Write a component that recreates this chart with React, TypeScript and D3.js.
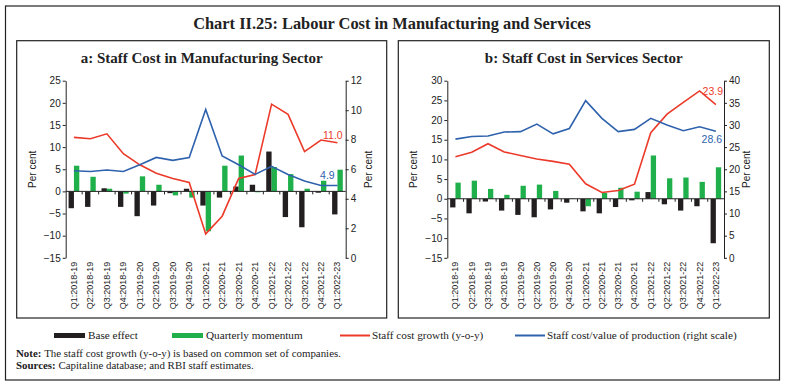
import * as d3 from "d3";
import React, { useEffect, useRef } from "react";

// categories
const quarters = [
  "Q1:2018-19", "Q2:2018-19", "Q3:2018-19", "Q4:2018-19",
  "Q1:2019-20", "Q2:2019-20", "Q3:2019-20", "Q4:2019-20",
  "Q1:2020-21", "Q2:2020-21", "Q3:2020-21", "Q4:2020-21",
  "Q1:2021-22", "Q2:2021-22", "Q3:2021-22", "Q4:2021-22",
  "Q1:2022-23",
];

// a: manufacturing
const mfgBase = [-3.8, -3.5, 0.7, -3.5, -5.6, -3.2, -0.4, 0.6, -3.2, -1.4, 1.1, 1.5, 9.0, -5.8, -8.1, -0.3, -5.2];
const mfgMomentum = [5.8, 3.3, 0.6, -0.5, 3.4, 1.5, -0.9, -1.4, -9.0, 5.8, 8.1, -0.2, 5.5, 3.9, 0.6, 2.4, 4.9];
const mfgGrowth = [12.2, 11.9, 13.0, 8.5, 6.0, 4.1, 2.9, 2.0, -9.6, -5.6, 2.9, 3.8, 19.7, 17.4, 9.0, 11.6, 11.0];
const mfgRatio = [5.9, 5.85, 5.95, 5.85, 6.3, 6.8, 6.6, 6.8, 10.05, 6.9, 6.3, 5.65, 6.2, 5.65, 5.2, 4.9, 4.9];
const mfgLeftTicks = [-15, -10, -5, 0, 5, 10, 15, 20, 25];
const mfgRightTicks = [0, 2, 4, 6, 8, 10, 12];

// b: services
const svcBase = [-2.2, -3.7, -0.7, -3.0, -4.1, -4.7, -2.7, -1.0, -3.2, -3.7, -2.1, -0.4, 1.7, -1.4, -3.0, -1.9, -11.3];
const svcMomentum = [4.1, 4.6, 2.5, 1.0, 3.3, 3.6, 2.0, 0.1, -1.9, 1.5, 2.8, 1.8, 11.0, 5.2, 5.4, 4.3, 8.0];
const svcGrowth = [10.7, 11.8, 14.0, 11.9, 11.0, 10.1, 9.5, 8.8, 3.8, 1.6, 2.1, 3.7, 16.8, 21.5, 24.5, 27.4, 23.9];
const svcRatio = [26.8, 27.4, 27.5, 28.4, 28.5, 30.2, 28.0, 29.2, 35.5, 31.5, 28.5, 29.0, 31.5, 30.0, 28.7, 29.6, 28.6];
const svcLeftTicks = [-15, -10, -5, 0, 5, 10, 15, 20, 25, 30];
const svcRightTicks = [0, 5, 10, 15, 20, 25, 30, 35, 40];

const legendItems = [
  { label: "Base effect", kind: "bar", color: "#231f20" },
  { label: "Quarterly momentum", kind: "bar", color: "#1fb04b" },
  { label: "Staff cost growth (y-o-y)", kind: "line", color: "#ec3a2a" },
  { label: "Staff cost/value of production (right scale)", kind: "line", color: "#2f62ad" },
];

const serif = "'Liberation Serif', 'Times New Roman', serif";
const sans = "'Liberation Sans', Arial, sans-serif";
const col = { base: "#231f20", mom: "#1fb04b", growth: "#ec3a2a", ratio: "#2f62ad" };

function drawPanel(svg, p) {
  const g = svg.append("g");

  // panel frame + title
  g.append("rect")
    .attr("x", p.box[0]).attr("y", p.box[1])
    .attr("width", p.box[2]).attr("height", p.box[3])
    .attr("fill", "none").attr("stroke", "#222").attr("stroke-width", 1.2);
  g.append("text")
    .attr("x", p.box[0] + p.box[2] / 2).attr("y", 63)
    .attr("text-anchor", "middle")
    .attr("font-family", serif).attr("font-weight", "bold").attr("font-size", 15)
    .attr("fill", "#222")
    .text(p.title);

  const top = 80.7, bottom = 257.8;
  const x = d3.scaleBand().domain(quarters).range([p.x0, p.x1]);
  const yL = d3.scaleLinear().domain(d3.extent(p.leftTicks)).range([bottom, top]);
  const yR = d3.scaleLinear().domain(d3.extent(p.rightTicks)).range([bottom, top]);
  const bw = x.bandwidth() * 0.325;
  const cx = (q) => x(q) + x.bandwidth() / 2;

  // bars
  const bar = (vals, color, offset) =>
    g.append("g").selectAll("rect").data(vals).join("rect")
      .attr("x", (d, i) => cx(quarters[i]) + offset)
      .attr("y", (d) => yL(Math.max(0, d)))
      .attr("width", bw)
      .attr("height", (d) => Math.abs(yL(d) - yL(0)))
      .attr("fill", color);
  bar(p.base, col.base, -bw);
  bar(p.momentum, col.mom, 0);

  // zero line with ticks at band edges
  g.append("line")
    .attr("x1", p.x0).attr("x2", p.x1)
    .attr("y1", yL(0)).attr("y2", yL(0))
    .attr("stroke", "#222").attr("stroke-width", 1);
  g.append("g").selectAll("line").data(quarters.slice(1)).join("line")
    .attr("x1", (d) => x(d)).attr("x2", (d) => x(d))
    .attr("y1", yL(0)).attr("y2", yL(0) + 3)
    .attr("stroke", "#222");

  // lines
  const line = (vals, y, color) =>
    g.append("path")
      .attr("d", d3.line().x((d, i) => cx(quarters[i])).y((d) => y(d))(vals))
      .attr("fill", "none").attr("stroke", color).attr("stroke-width", 1.6);
  line(p.growth, yL, col.growth);
  line(p.ratio, yR, col.ratio);

  // end labels
  const last = quarters.length - 1;
  g.append("text")
    .attr("x", p.x1 - p.growthLab[0]).attr("y", yL(p.growth[last]) + p.growthLab[1])
    .attr("text-anchor", "end").attr("font-family", sans).attr("font-size", 10.5)
    .attr("fill", col.growth).text(p.growth[last].toFixed(1));
  g.append("text")
    .attr("x", p.x1 - p.ratioLab[0]).attr("y", yR(p.ratio[last]) + p.ratioLab[1])
    .attr("text-anchor", "end").attr("font-family", sans).attr("font-size", 10.5)
    .attr("fill", col.ratio).text(p.ratio[last].toFixed(1));

  // axes
  const styleAxis = (ax) => {
    ax.selectAll("text").attr("font-family", sans).attr("font-size", 10).attr("fill", "#222");
    ax.selectAll("line,path").attr("stroke", "#222");
  };
  const left = g.append("g").attr("transform", `translate(${p.x0},0)`)
    .call(d3.axisLeft(yL).tickValues(p.leftTicks).tickSize(3).tickSizeOuter(0).tickPadding(2));
  styleAxis(left);
  const right = g.append("g").attr("transform", `translate(${p.x1},0)`)
    .call(d3.axisRight(yR).tickValues(p.rightTicks).tickSize(3).tickSizeOuter(0).tickPadding(2));
  styleAxis(right);

  // category labels
  g.append("g").selectAll("text").data(quarters).join("text")
    .attr("transform", (d) => `translate(${cx(d) + 3},${bottom + 4}) rotate(-90)`)
    .attr("text-anchor", "end")
    .attr("font-family", sans).attr("font-size", 9).attr("fill", "#222")
    .text((d) => d);

  // axis titles
  [p.x0 - 30, p.x1 + 26].forEach((tx) => {
    g.append("text")
      .attr("transform", `translate(${tx},${(top + bottom) / 2}) rotate(-90)`)
      .attr("text-anchor", "middle")
      .attr("font-family", sans).attr("font-size", 10).attr("fill", "#222")
      .text("Per cent");
  });
}

export default function App() {
  const svgRef = useRef(null);

  useEffect(() => {
    document.body.style.margin = "0";
    const svg = d3.select(svgRef.current);
    svg.selectAll("*").remove();

    svg.append("rect").attr("width", 786).attr("height", 386).attr("fill", "#fff");
    svg.append("rect")
      .attr("x", 5.5).attr("y", 6).attr("width", 774).attr("height", 374)
      .attr("fill", "none").attr("stroke", "#222").attr("stroke-width", 1.2);
    svg.append("text")
      .attr("x", 392).attr("y", 29).attr("text-anchor", "middle")
      .attr("font-family", serif).attr("font-weight", "bold").attr("font-size", 16.4)
      .attr("fill", "#222")
      .text("Chart II.25: Labour Cost in Manufacturing and Services");

    drawPanel(svg, {
      box: [16.7, 40.7, 370, 277.3],
      title: "a: Staff Cost in Manufacturing Sector",
      x0: 65.7, x1: 345.7,
      leftTicks: mfgLeftTicks, rightTicks: mfgRightTicks,
      base: mfgBase, momentum: mfgMomentum, growth: mfgGrowth, ratio: mfgRatio,
      growthLab: [3, -4], ratioLab: [11, -6],
    });
    drawPanel(svg, {
      box: [398.3, 40.7, 371, 277.3],
      title: "b: Staff Cost in Services Sector",
      x0: 447.3, x1: 724,
      leftTicks: svcLeftTicks, rightTicks: svcRightTicks,
      base: svcBase, momentum: svcMomentum, growth: svcGrowth, ratio: svcRatio,
      growthLab: [1, -10], ratioLab: [2, 12],
    });

    // legend
    const starts = [54, 172, 340, 515];
    const lg = svg.append("g");
    legendItems.forEach((it, i) => {
      const sx = starts[i];
      if (it.kind === "bar") {
        lg.append("rect").attr("x", sx).attr("y", 333).attr("width", 31).attr("height", 5).attr("fill", it.color);
      } else {
        lg.append("line").attr("x1", sx).attr("x2", sx + 30).attr("y1", 335.5).attr("y2", 335.5)
          .attr("stroke", it.color).attr("stroke-width", 2);
      }
      lg.append("text")
        .attr("x", sx + (it.kind === "bar" ? 34 : 32)).attr("y", 339)
        .attr("font-family", serif).attr("font-size", 11.2).attr("fill", "#222")
        .text(it.label);
    });

    // notes
    const note = svg.append("text").attr("x", 16).attr("y", 357)
      .attr("font-family", serif).attr("font-size", 10.9).attr("fill", "#222");
    note.append("tspan").attr("font-weight", "bold").text("Note: ");
    note.append("tspan").text("The staff cost growth (y-o-y) is based on common set of companies.");
    const src = svg.append("text").attr("x", 16).attr("y", 369)
      .attr("font-family", serif).attr("font-size", 10.9).attr("fill", "#222");
    src.append("tspan").attr("font-weight", "bold").text("Sources: ");
    src.append("tspan").text("Capitaline database; and RBI staff estimates.");
  }, []);

  return <svg ref={svgRef} width={786} height={386} style={{ display: "block" }} />;
}
